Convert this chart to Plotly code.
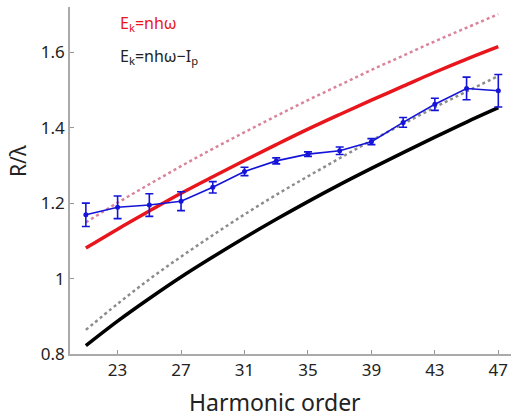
import plotly.graph_objects as go

harmonic = [21, 23, 25, 27, 29, 31, 33, 35, 37, 39, 41, 43, 45, 47]
measured = [1.169, 1.189, 1.195, 1.205, 1.242, 1.284, 1.312, 1.330, 1.339, 1.363, 1.414, 1.462, 1.504, 1.498]
measured_err = [0.031, 0.030, 0.030, 0.025, 0.015, 0.011, 0.008, 0.006, 0.010, 0.008, 0.013, 0.016, 0.030, 0.043]
red_solid = [1.081, 1.131, 1.179, 1.226, 1.270, 1.313, 1.355, 1.396, 1.435, 1.473, 1.510, 1.547, 1.582, 1.615]
red_dotted = [1.149, 1.201, 1.250, 1.298, 1.344, 1.388, 1.431, 1.473, 1.513, 1.553, 1.591, 1.629, 1.665, 1.701]
black_solid = [0.822, 0.887, 0.947, 1.004, 1.057, 1.108, 1.157, 1.204, 1.249, 1.292, 1.334, 1.375, 1.415, 1.453]
black_dotted = [0.864, 0.933, 0.998, 1.058, 1.115, 1.170, 1.222, 1.271, 1.319, 1.366, 1.410, 1.454, 1.496, 1.537]
x_ticks = [23, 27, 31, 35, 39, 43, 47]
y_ticks = [0.8, 1.0, 1.2, 1.4, 1.6]
y_ticktext = ["0.8", "1", "1.2", "1.4", "1.6"]

FONT = "Noto Sans"

fig = go.Figure()
fig.add_trace(go.Scatter(x=harmonic, y=red_dotted, mode="lines",
                         line=dict(color="#d9849a", width=2.5, dash="dot", shape="spline"),
                         showlegend=False))
fig.add_trace(go.Scatter(x=harmonic, y=black_dotted, mode="lines",
                         line=dict(color="#8c8c8c", width=2.5, dash="dot", shape="spline"),
                         showlegend=False))
fig.add_trace(go.Scatter(x=harmonic, y=red_solid, mode="lines",
                         line=dict(color="#e8161c", width=3.5, shape="spline"), showlegend=False))
fig.add_trace(go.Scatter(x=harmonic, y=black_solid, mode="lines",
                         line=dict(color="#000000", width=3.5, shape="spline"), showlegend=False))
fig.add_trace(go.Scatter(x=harmonic, y=measured, mode="lines+markers",
                         line=dict(color="#1414d8", width=1.6),
                         marker=dict(color="#1414d8", size=5),
                         error_y=dict(type="data", array=measured_err, color="#1414d8",
                                      thickness=1.6, width=4),
                         showlegend=False))

fig.add_annotation(text="E<sub>k</sub>=nhω", x=0.108, y=0.99, xref="paper", yref="paper",
                   xanchor="left", yanchor="top", showarrow=False,
                   font=dict(family=FONT, size=16, color="#e8161c"))
fig.add_annotation(text="E<sub>k</sub>=nhω−I<sub>p</sub>", x=0.108, y=0.895, xref="paper", yref="paper",
                   xanchor="left", yanchor="top", showarrow=False,
                   font=dict(family=FONT, size=16, color="#222222"))
fig.add_annotation(text="Harmonic order", x=0.465, y=-0.138, xref="paper", yref="paper",
                   xanchor="center", yanchor="middle", showarrow=False,
                   font=dict(family=FONT, size=23, color="#222222"))
fig.add_annotation(text="R/λ", x=-0.118, y=0.556, xref="paper", yref="paper",
                   xanchor="center", yanchor="middle", showarrow=False, textangle=-90,
                   font=dict(family=FONT, size=21, color="#222222"))

fig.update_layout(
    width=511, height=418,
    margin=dict(l=70, r=0, t=7, b=64),
    paper_bgcolor="white", plot_bgcolor="white",
    font=dict(family=FONT, color="#222222"),
    xaxis=dict(range=[20, 47.8], tickvals=x_ticks, ticks="inside", ticklen=4,
               tickcolor="#999999", showline=True, linecolor="#aaaaaa", linewidth=1.5,
               showgrid=False, zeroline=False, tickfont=dict(size=17)),
    yaxis=dict(range=[0.8, 1.72], tickvals=y_ticks, ticktext=y_ticktext, ticks="inside",
               ticklen=4, tickcolor="#999999", showline=True, linecolor="#aaaaaa",
               linewidth=1.5, showgrid=False, zeroline=False, tickfont=dict(size=17)),
)

fig.write_html("out.html")
